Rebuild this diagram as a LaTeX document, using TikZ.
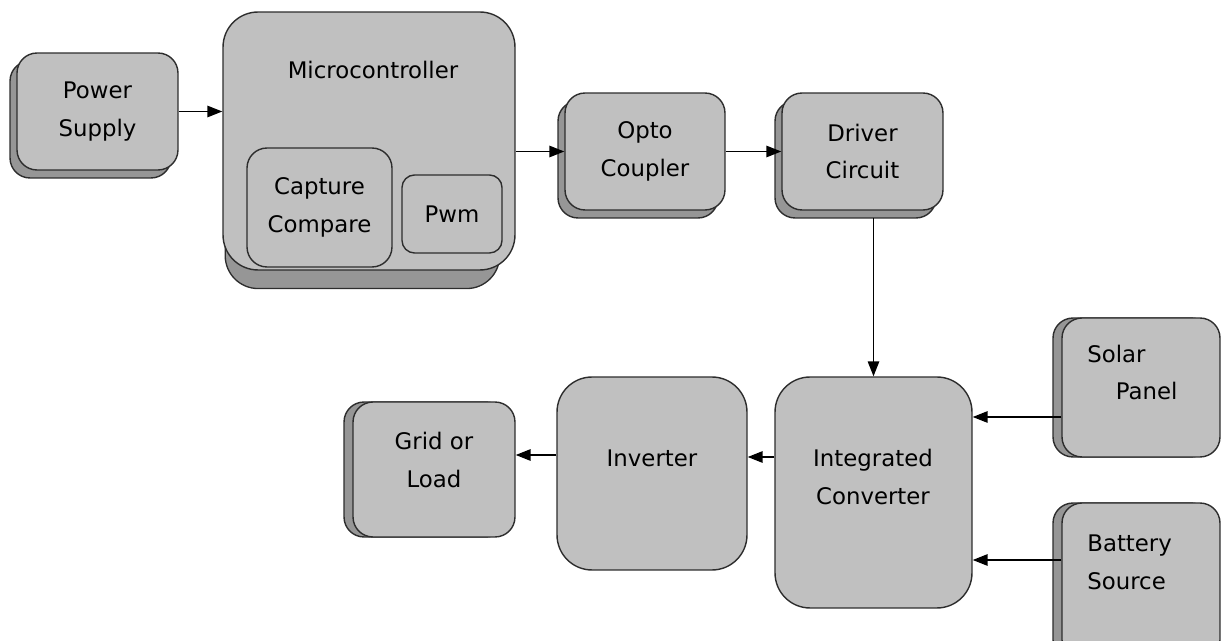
\documentclass[tikz,border=0pt]{standalone}
\usepackage{fontspec}
\setmainfont{DejaVu Sans}
\usetikzlibrary{shadows,arrows.meta}

\definecolor{boxgray}{RGB}{192,192,192}
\definecolor{shadegray}{RGB}{150,150,150}
\definecolor{edge}{RGB}{45,45,45}

\tikzset{
  block/.style={draw=edge, line width=0.8pt, fill=boxgray, rounded corners=0.4cm,
    align=center, inner sep=0pt, font=\fontsize{13}{21.5}\selectfont},
  bigblock/.style={block, rounded corners=0.7cm},
  txt/.style={align=left, inner sep=0pt, font=\fontsize{13}{21.5}\selectfont},
  shadowed/.style={general shadow={draw=edge, line width=0.8pt, fill=shadegray,
    shadow xshift=-0.14cm, shadow yshift=-0.16cm}},
  sideshadow/.style={general shadow={draw=edge, line width=0.8pt, fill=shadegray,
    shadow xshift=-0.18cm, shadow yshift=0cm}},
  arr/.style={-{Triangle[length=8.5pt,width=6.5pt]}, line width=0.8pt, draw=black}
}

\begin{document}
\begin{tikzpicture}[x=0.02cm, y=-0.02cm]
\useasboundingbox (0,0) rectangle (1221,641);
\clip (0,0) rectangle (1221,641);

% top row
\node[block, shadowed, minimum width=3.22cm, minimum height=2.34cm] (ps) at (97.5,111.5) {Power\\Supply};
\node[bigblock, general shadow={draw=edge, line width=0.8pt, fill=shadegray,
    shadow scale=0.94, shadow xshift=-0.14cm, shadow yshift=-0.56cm},
    minimum width=5.84cm, minimum height=5.16cm] (mc) at (369,141) {};
\node[txt] (mctitle) at (373,70) {Microcontroller};
\node[block, minimum width=2.9cm, minimum height=2.38cm] (cc) at (319.5,207.5) {Capture\\Compare};
\node[block, rounded corners=0.25cm, minimum width=2cm, minimum height=1.56cm] (pwm) at (452,214) {Pwm};
\node[block, shadowed, minimum width=3.2cm, minimum height=2.34cm] (oc) at (645,151.5) {Opto\\Coupler};
\node[block, shadowed, minimum width=3.22cm, minimum height=2.34cm] (dc) at (862.5,151.5) {Driver\\Circuit};

% bottom row
\node[bigblock, minimum width=3.94cm, minimum height=4.62cm] (ic) at (873.5,492.5) {};
\node[txt, align=center] (ictext) at (873,477) {Integrated\\Converter};
\node[bigblock, minimum width=3.8cm, minimum height=3.86cm] (iv) at (652,473.5) {};
\node[txt] (ivtext) at (652,458) {Inverter};
\node[block, sideshadow, minimum width=3.24cm, minimum height=2.7cm] (gl) at (434,469.5) {};
\node[txt, align=center] (gltext) at (434,460) {Grid or\\Load};

% sources
\node[block, sideshadow, minimum width=3.16cm, minimum height=2.78cm] (sp) at (1141,387.5) {};
\node[txt, anchor=west] (sptext) at (1087,372.5) {Solar\\\hspace*{1.25em}Panel};
\node[block, sideshadow, minimum width=3.16cm, minimum height=3.14cm] (bs) at (1141,581.5) {};
\node[txt, anchor=west] (bstext) at (1087,562.5) {Battery\\Source};

% connections
\draw[arr] (ps.east) -- (ps.east -| mc.west);
\draw[arr] (oc.west -| mc.east) -- (oc.west);
\draw[arr] (oc.east) -- (dc.west);
\draw[arr] ([yshift=-0.14cm]ic.north |- dc.south) -- (ic.north);
\draw[arr] ([yshift=-0.59cm]sp.west) -- ([yshift=-0.59cm]sp.west -| ic.east);
\draw[arr] ([yshift=0.43cm]bs.west) -- ([yshift=0.43cm]bs.west -| ic.east);
\draw[arr] ([yshift=0.71cm]ic.west) -- ([yshift=0.71cm]ic.west -| iv.east);
\draw[arr] ([yshift=0.37cm]iv.west) -- ([yshift=0.37cm]iv.west -| gl.east);

\end{tikzpicture}
\end{document}
